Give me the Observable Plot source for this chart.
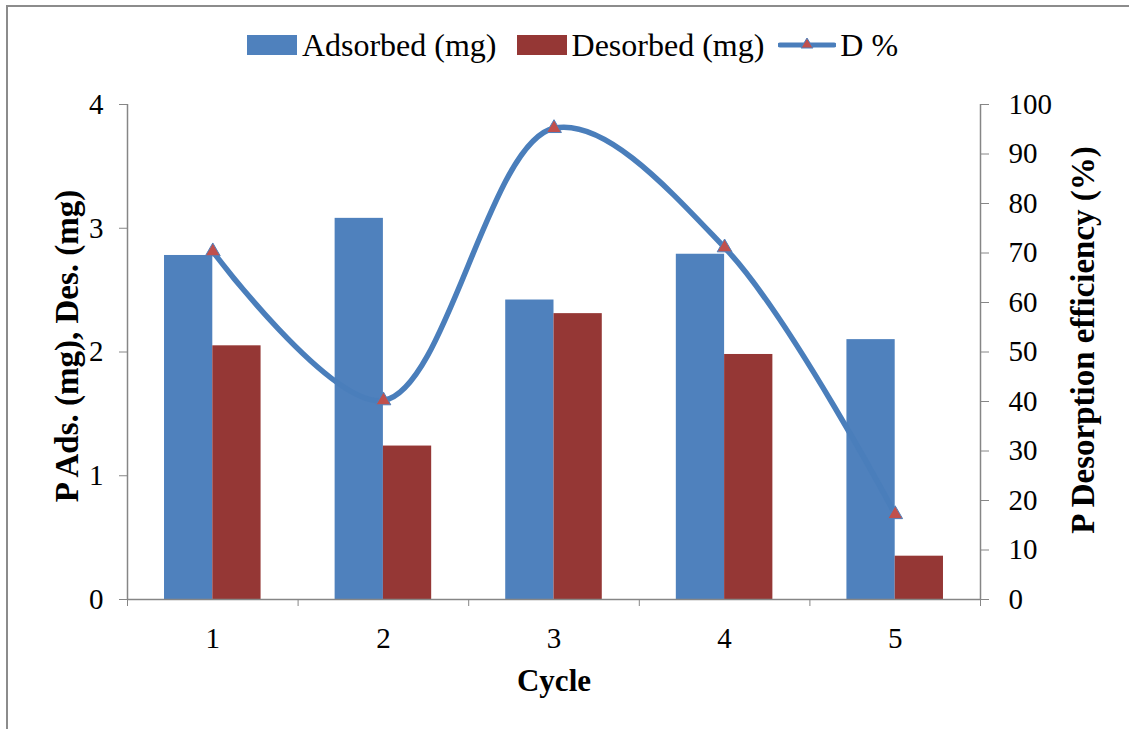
<!DOCTYPE html>
<html><head><meta charset="utf-8">
<script src="https://cdn.jsdelivr.net/npm/d3@7"></script>
<script src="https://cdn.jsdelivr.net/npm/@observablehq/plot@0.6"></script>
<style>
body{margin:0;background:#fff;}
#wrap{position:relative;width:1129px;height:729px;overflow:hidden;font-family:"Liberation Serif","Times New Roman","DejaVu Serif",serif;background:#fff;}
#frame{position:absolute;left:6px;top:5px;width:1200px;height:800px;border-top:2px solid #8c8c8c;border-left:2px solid #8c8c8c;pointer-events:none;box-sizing:border-box;}
#legend{height:90px;display:flex;align-items:center;justify-content:center;padding-left:30px;box-sizing:border-box;font-size:32px;color:#000;}
#legend, #legend span{font-family:"Liberation Serif","Times New Roman","DejaVu Serif",serif !important;}
.item{display:flex;align-items:center;margin-right:14px;}
.sw{width:50px;height:20px;margin-right:5px;}
#chart svg{display:block;overflow:visible;}
#chart svg, #chart svg text, #chart svg g{font-family:"Liberation Serif","Times New Roman","DejaVu Serif",serif !important;font-variant:normal !important;}
</style></head>
<body>
<div id="wrap">
<div id="frame"></div>
<div id="legend"></div>
<div id="chart"></div>
</div>
<script>
const cycles = [1, 2, 3, 4, 5];
const adsorbed = [2.78, 3.08, 2.42, 2.79, 2.10];
const desorbed = [2.05, 1.24, 2.31, 1.98, 0.35];
const dPercent = [70.3, 40.2, 95.2, 71.1, 17.2];
const leftTicks = [0, 1, 2, 3, 4];
const rightTicks = [0, 10, 20, 30, 40, 50, 60, 70, 80, 90, 100];
const cycleBounds = [0.5, 1.5, 2.5, 3.5, 4.5, 5.5];
const seriesNames = ["Adsorbed (mg)", "Desorbed (mg)", "D %"];
const colors = {ads: "#4F81BD", des: "#953735", line: "#4A7EBB", marker: "#C0504D"};

const rows = cycles.map((c, i) => ({cycle: c, ads: adsorbed[i], des: desorbed[i], d: dPercent[i]}));
const w = 0.283; // bar width in band units
const toLeft = v => v / 25; // right axis (0-100) onto left axis (0-4)
const serif = "'Liberation Serif','Times New Roman','DejaVu Serif',serif";

// Legend
const legend = document.getElementById("legend");
legend.innerHTML = `
 <div class="item"><div class="sw" style="background:${colors.ads}"></div><span>${seriesNames[0]}</span></div>
 <div class="item" style="margin-left:6px"><div class="sw" style="background:${colors.des}"></div><span>${seriesNames[1]}</span></div>
 <div class="item"><svg width="58" height="20" style="margin-right:4px"><line x1="2" y1="10" x2="56" y2="10" stroke="${colors.line}" stroke-width="5" stroke-linecap="round"/><path d="M29,3 L35,13 L23,13 Z" fill="${colors.marker}" stroke="${colors.ads}" stroke-width="1"/></svg><span>${seriesNames[2]}</span></div>`;

const gray = "#868686";
const fs = 29;
const chart = Plot.plot({
  width: 1129,
  height: 639,
  marginTop: 14,
  marginBottom: 130,
  marginLeft: 127,
  marginRight: 149,
  style: {fontFamily: serif, background: "transparent", color: "#000"},
  x: {domain: [0.5, 5.5]},
  y: {domain: [0, 4]},
  marks: [
    Plot.rectY(rows, {x1: d => d.cycle - w, x2: d => d.cycle, y: "ads", fill: colors.ads}),
    Plot.rectY(rows, {x1: d => d.cycle, x2: d => d.cycle + w, y: "des", fill: colors.des}),
    Plot.ruleX([0.5], {stroke: gray, strokeWidth: 1.5}),
    Plot.ruleX([5.5], {stroke: gray, strokeWidth: 1.5}),
    Plot.ruleY([0], {stroke: gray, strokeWidth: 1.5}),
    Plot.axisY({anchor: "left", ticks: leftTicks, tickSize: 8, tickPadding: 16, fontSize: fs, fontFamily: serif, stroke: gray, fill: "#000", label: null, tickFormat: d => d}),
    Plot.axisY({anchor: "right", ticks: rightTicks.map(toLeft), tickSize: 8, tickPadding: 20, fontSize: fs, fontFamily: serif, stroke: gray, fill: "#000", label: null, tickFormat: v => Math.round(v * 25)}),
    Plot.axisX({ticks: cycles, tickSize: 0, tickPadding: 28, fontSize: fs, fontFamily: serif, fill: "#000", label: null, tickFormat: d => d}),
    Plot.axisX({ticks: cycleBounds, tickSize: 7, stroke: gray, label: null, tickFormat: () => ""}),
    Plot.line(rows, {x: "cycle", y: d => toLeft(d.d), curve: "catmull-rom", stroke: colors.line, strokeWidth: 5.5}),
    Plot.dot(rows, {x: "cycle", y: d => toLeft(d.d), symbol: "triangle", r: 5.5, fill: colors.marker, stroke: colors.ads, strokeWidth: 1}),
    Plot.text(["Cycle"], {frameAnchor: "bottom", dy: 91, text: d => d, fontWeight: "bold", fontSize: 31, fontFamily: serif, fill: "#000"}),
    Plot.text(["P Ads. (mg), Des. (mg)"], {frameAnchor: "left", textAnchor: "middle", dx: -60, dy: -6, rotate: -90, text: d => d, fontWeight: "bold", fontSize: 33, fontFamily: serif, fill: "#000"}),
    Plot.text(["P Desorption efficiency (%)"], {frameAnchor: "right", textAnchor: "middle", dx: 103, dy: -12, rotate: -90, text: d => d, fontWeight: "bold", fontSize: 33, fontFamily: serif, fill: "#000"})
  ]
});
document.getElementById("chart").appendChild(chart);
</script>
</body></html>
